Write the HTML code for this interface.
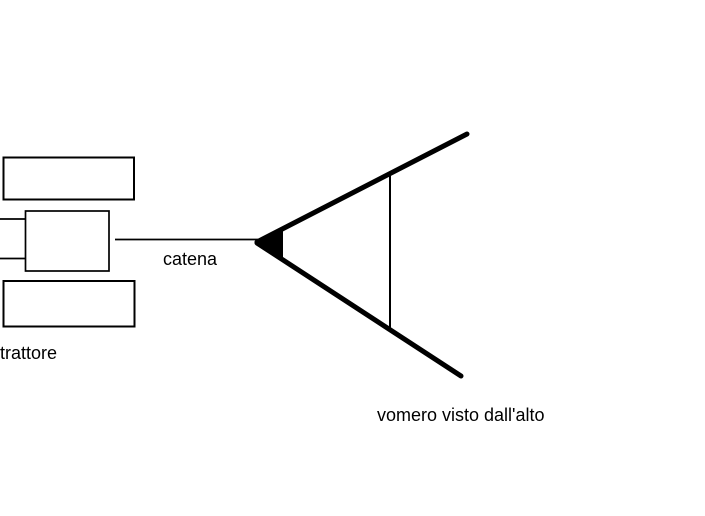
<!DOCTYPE html>
<html>
<head>
<meta charset="utf-8">
<style>
  html, body { margin: 0; padding: 0; background: #fff; }
  body { width: 705px; height: 516px; overflow: hidden; position: relative; }
  svg { position: absolute; left: 0; top: 0; }
  text { font-family: "Liberation Sans", Arial, sans-serif; font-size: 18px; fill: #000; }
</style>
</head>
<body>
<svg width="705" height="516" viewBox="0 0 705 516" xmlns="http://www.w3.org/2000/svg">
  <rect x="0" y="0" width="705" height="516" fill="#fff"/>
  <!-- tractor boxes -->
  <rect x="3.5" y="157.5" width="130.5" height="42" fill="none" stroke="#000" stroke-width="2"/>
  <rect x="25.5" y="211" width="83.5" height="60" fill="none" stroke="#000" stroke-width="1.7"/>
  <rect x="3.5" y="281" width="131" height="45.5" fill="none" stroke="#000" stroke-width="2"/>
  <!-- left stubs -->
  <line x1="0" y1="219" x2="25" y2="219" stroke="#000" stroke-width="1.7"/>
  <line x1="0" y1="258.5" x2="25" y2="258.5" stroke="#000" stroke-width="1.7"/>
  <!-- chain -->
  <line x1="115" y1="239.5" x2="258" y2="239.5" stroke="#000" stroke-width="1.7"/>
  <!-- plough V -->
  <line x1="257" y1="242" x2="467" y2="134" stroke="#000" stroke-width="5" stroke-linecap="round"/>
  <line x1="257" y1="243" x2="461" y2="376" stroke="#000" stroke-width="5" stroke-linecap="round"/>
  <polygon points="255,243 283,230 283,258" fill="#000"/>
  <!-- cross bar -->
  <line x1="390" y1="174" x2="390" y2="329" stroke="#000" stroke-width="2"/>
  <!-- labels -->
  <text x="163" y="265">catena</text>
  <text x="0" y="359">trattore</text>
  <text x="377" y="421">vomero visto dall'alto</text>
</svg>
</body>
</html>
